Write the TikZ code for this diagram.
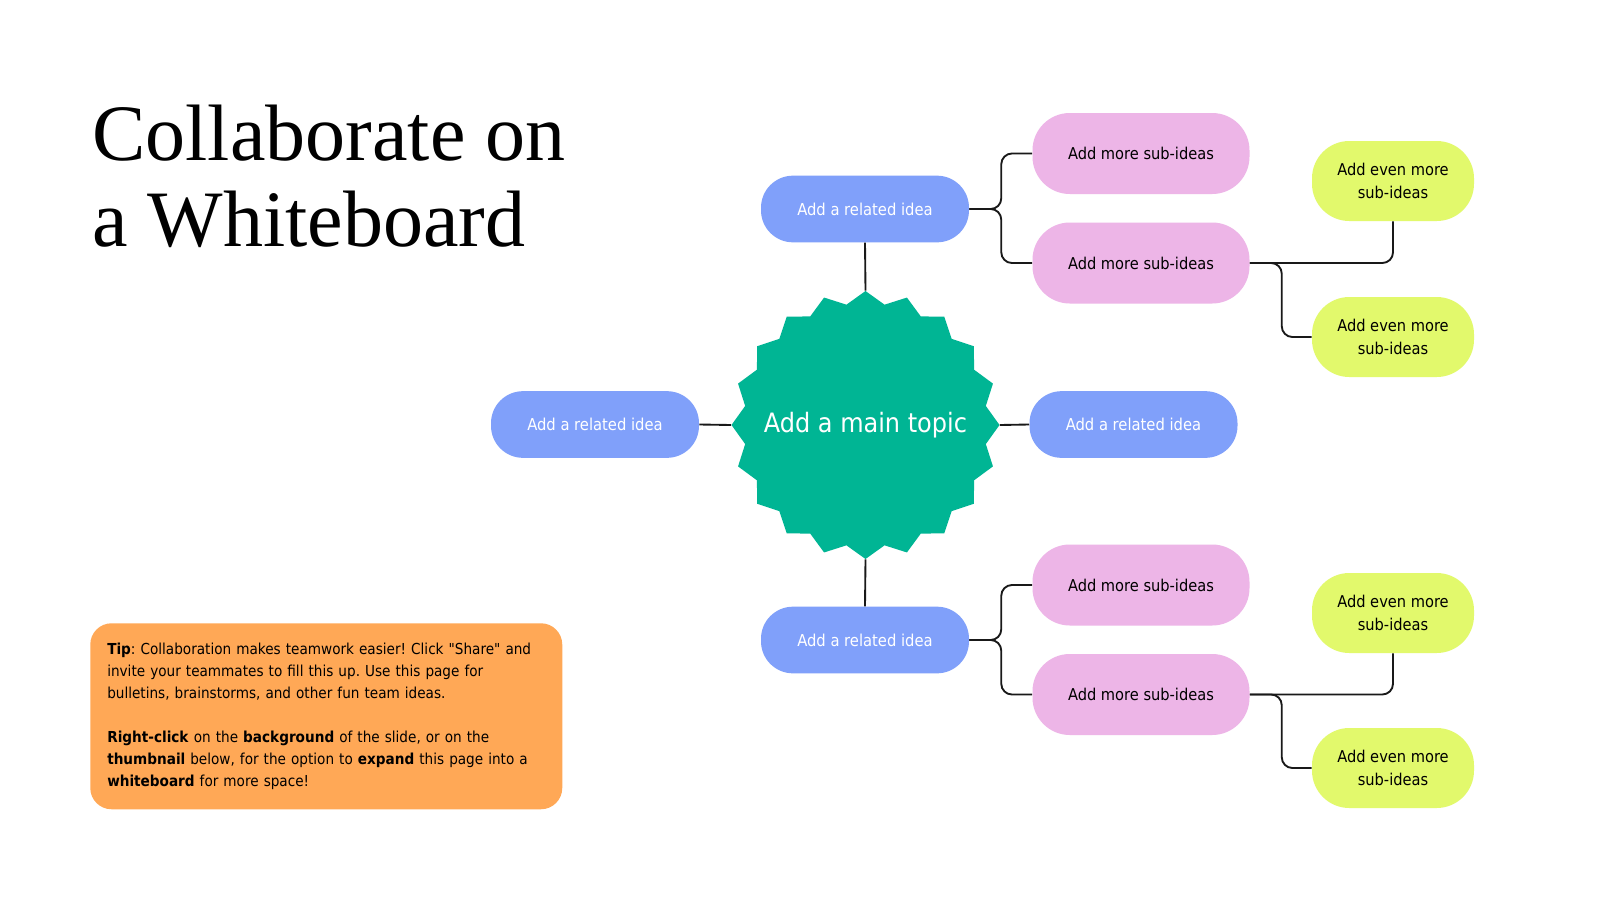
\documentclass[tikz,border=0pt]{standalone}
\usepackage{fontspec}
\setmainfont{DejaVu Sans Condensed}[Ligatures=TeXOff]
\newfontfamily\titlefont{Liberation Serif}
\usetikzlibrary{shapes.geometric}
\definecolor{ideablue}{RGB}{128,160,250}
\definecolor{subpink}{RGB}{237,181,231}
\definecolor{leafgreen}{RGB}{226,249,108}
\definecolor{tiporange}{RGB}{255,168,86}
\definecolor{topicteal}{RGB}{0,181,148}
\definecolor{linegray}{RGB}{25,25,25}
\frenchspacing

\begin{document}
\begin{tikzpicture}[x=0.75pt,y=-0.75pt,
	related/.style={fill=ideablue,text=white,minimum width=156pt,minimum height=50pt,rounded corners=24pt,inner sep=0,font=\fontsize{12.3}{14}\selectfont},
	subidea/.style={fill=subpink,minimum width=162.75pt,minimum height=60.75pt,rounded corners=28pt,inner sep=0,font=\fontsize{12.2}{14}\selectfont},
	leaf/.style={fill=leafgreen,minimum width=121.5pt,minimum height=60pt,rounded corners=28pt,inner sep=0,align=center,font=\fontsize{12.2}{17.6}\selectfont},
	link/.style={draw=linegray,line width=1.4pt,rounded corners=8pt}]
	
	\fill[white] (0,0) rectangle (1600,900);
	\useasboundingbox (0,0) rectangle (1600,900);
	
	\node[anchor=north west,inner sep=0,align=left,font=\titlefont\fontsize{60}{64.5}\selectfont] (title) at (92,105) {Collaborate on\\a Whiteboard};
	
	\node[anchor=north west,fill=tiporange,rounded corners=16pt,text width=328.5pt,inner xsep=12.75pt,inner ysep=0,minimum height=139.5pt,align=left,font=\fontsize{11.35}{16.4}\selectfont] (tip) at (90,623)
		{\textbf{Tip}: Collaboration makes teamwork easier! Click "Share" and\\
		invite your teammates to fill this up. Use this page for\\
		bulletins, brainstorms, and other fun team ideas.\\[16.4pt]
		\textbf{Right-click} on the \textbf{background} of the slide, or on the\\
		\textbf{thumbnail} below, for the option to \textbf{expand} this page into a\\
		\textbf{whiteboard} for more space!};
	
	\node[star,star points=20,star point ratio=1.1,minimum size=201pt,inner sep=0,fill=topicteal,text=white,font=\fontsize{20}{24}\selectfont] (topic) at (865.5,425) {\makebox[0pt]{Add a main topic}};
	
	\node[related] (rel1) at (865,209) {Add a related idea};
	\node[related] (rel2) at (595,424.5) {Add a related idea};
	\node[related] (rel3) at (1133.5,424.5) {Add a related idea};
	\node[related] (rel4) at (865,640) {Add a related idea};
	
	\foreach \n/\y in {1/153.5,2/263,3/585,4/694.5}
		\node[subidea] (sub\n) at (1141,\y) {Add more sub-ideas};
	
	\foreach \n/\y in {1/181,2/337,3/613,4/768}
		\node[leaf] (leaf\n) at (1393,\y) {Add even more\\sub-ideas};
	
	\draw[link] (rel1.south) -- (topic.north);
	\draw[link] (rel4.north) -- (topic.south);
	\draw[link] (rel2.east) -- (topic.west);
	\draw[link] (rel3.west) -- (topic.east);
	
	\foreach \r/\a/\b in {1/1/2,4/3/4}
	{
		\coordinate (j\r) at ([xshift=24pt]rel\r.east);
		\draw[link] (rel\r.east) -- (j\r) |- (sub\a.west);
		\draw[link] (rel\r.east) -- (j\r) |- (sub\b.west);
	}
	
	\foreach \s/\a/\b in {2/1/2,4/3/4}
	{
		\coordinate (k\s) at ([xshift=24pt]sub\s.east);
		\draw[link] (sub\s.east) -| (leaf\a.south);
		\draw[link] (sub\s.east) -- (k\s) |- (leaf\b.west);
	}
\end{tikzpicture}
\end{document}
